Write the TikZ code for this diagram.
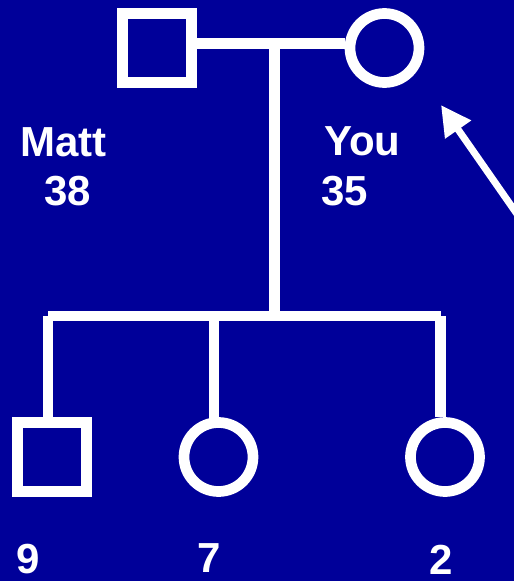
\documentclass[tikz,border=0pt]{standalone}
\usepackage{fontspec}
\setmainfont{Liberation Sans}
\usetikzlibrary{arrows.meta}
\definecolor{bg}{RGB}{0,0,153}
\begin{document}
\begin{tikzpicture}[x=1pt,y=-1pt,
  ln/.style={draw=white,line width=10.7pt},
  male/.style={ln,rectangle,minimum size=69.3pt,inner sep=0pt},
  female/.style={ln,circle,minimum size=69pt,inner sep=0pt},
  lbl/.style={text=white,font=\bfseries\fontsize{42}{42}\selectfont,anchor=base west,inner sep=0pt}]
\fill[bg] (0,0) rectangle (514,581);
\useasboundingbox (0,0) rectangle (514,581);
% parents
\node[male] (matt) at (157,48) {};
\node[female] (you) at (384.5,48) {};
\coordinate (mid) at (274.5,43.5);
\coordinate (sib) at (274.5,316);
\coordinate (sibL) at (48,316);
\coordinate (sibR) at (440.5,316);
\draw[white,line width=10.7pt] ([yshift=4.5pt]matt.east) -- ([yshift=4.5pt]you.west);
\draw[white,line width=10.7pt] (mid) -- (sib);
% children
\node[male] (k1) at (52,457) {};
\node[female] (k2) at (218.5,457) {};
\node[female] (k3) at (445,457) {};
\draw[white,line width=10.7pt] (sibL) -- ([xshift=0.5pt]sibR);
\draw[white,line width=10.7pt] (sibL) -- (sibL |- k1.north);
\draw[white,line width=10.7pt] (214,316) -- (214,422);
\draw[white,line width=10.7pt] (sibR) -- (sibR |- k3.north);
% labels
\node[lbl] (tm) at (20,156) {Matt};
\node[lbl] (t38) at (44,205) {38};
\node[lbl] (ty) at (324,155) {You};
\node[lbl] (t35) at (321,205) {35};
\node[lbl] (t9) at (16,573) {9};
\node[lbl] (t7) at (197,572) {7};
\node[lbl] (t2) at (429,574) {2};
% arrow
\coordinate (as) at (540,247);
\coordinate (at) at (441,105);
\draw[white,line width=7pt,-{Triangle[length=30pt,width=30pt]}] (as) -- (at);
\end{tikzpicture}
\end{document}
